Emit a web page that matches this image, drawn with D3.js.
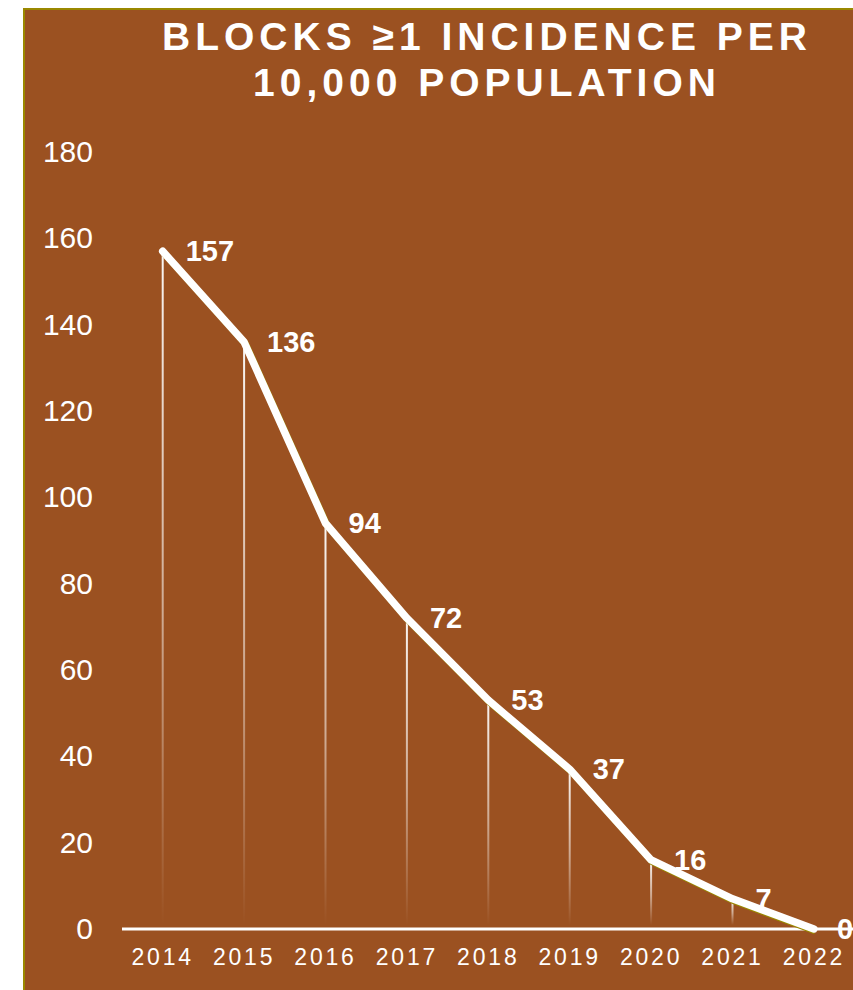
<!DOCTYPE html>
<html>
<head>
<meta charset="utf-8">
<script src="https://cdn.jsdelivr.net/npm/d3@7"></script>
<style>
  body { margin: 0; background: #fff; }
  svg { display: block; }
</style>
</head>
<body>
<div id="container"></div>
<script>
// chart data
let years = ["2014", "2015", "2016", "2017", "2018", "2019", "2020", "2021", "2022"];
let incidence = [157, 136, 94, 72, 53, 37, 16, 7, 0];
let yTicks = [0, 20, 40, 60, 80, 100, 120, 140, 160, 180];
let titleLines = ["BLOCKS \u22651 INCIDENCE PER", "10,000 POPULATION"];

let w = 853;
let h = 990;
let brown = "#9b5121";
let olive = "#9a8800";

let viz = d3.select("#container")
  .append("svg")
    .attr("width", w)
    .attr("height", h)
;

// panel
viz.append("rect")
    .attr("x", 24)
    .attr("y", 9)
    .attr("width", w)
    .attr("height", h)
    .attr("fill", brown)
    .attr("stroke", olive)
    .attr("stroke-width", 2)
;

// title
viz.selectAll(".title")
  .data(titleLines)
  .enter()
  .append("text")
    .attr("class", "title")
    .attr("x", 487)
    .attr("y", function(d, i){ return 50 + i * 46 })
    .attr("text-anchor", "middle")
    .attr("fill", "#fff")
    .style("font-family", "'Liberation Sans', Arial, sans-serif")
    .style("font-weight", "bold")
    .style("font-size", "39px")
    .style("letter-spacing", "5px")
    .text(function(d){ return d })
;

let xScale = d3.scaleBand().domain(years).range([122, 122 + 9 * 81.4]);
let yScale = d3.scaleLinear().domain([0, 180]).range([929, 152]);

function cx(d, i){ return xScale(years[i]) + xScale.bandwidth() / 2 }

// gradient for drop lines
let defs = viz.append("defs");
let grad = defs.append("linearGradient")
    .attr("id", "dropGrad")
    .attr("x1", 0).attr("y1", 0)
    .attr("x2", 0).attr("y2", 1)
;
grad.append("stop").attr("offset", "0%").attr("stop-color", "#fff").attr("stop-opacity", 0.95);
grad.append("stop").attr("offset", "55%").attr("stop-color", "#fff").attr("stop-opacity", 0.5);
grad.append("stop").attr("offset", "100%").attr("stop-color", "#fff").attr("stop-opacity", 0);

// drop lines
viz.selectAll(".drop")
  .data(incidence)
  .enter()
  .append("rect")
    .attr("class", "drop")
    .attr("x", function(d, i){ return cx(d, i) - 1 })
    .attr("y", function(d){ return yScale(d) })
    .attr("width", 2)
    .attr("height", function(d){ return Math.max(0, yScale(0) - 4 - yScale(d)) })
    .attr("fill", "url(#dropGrad)")
;

// x axis
let xAxis = d3.axisBottom(xScale).tickSize(0).tickPadding(20);
let xAxisGroup = viz.append("g")
    .attr("class", "xaxisgroup")
    .attr("transform", "translate(0," + yScale(0) + ")")
;
xAxisGroup.call(xAxis);
xAxisGroup.select(".domain")
    .attr("d", "M122,0H" + w)
    .attr("stroke", "#fff")
    .attr("stroke-width", 3)
;
xAxisGroup.selectAll("text")
    .attr("fill", "#fff")
    .style("font-family", "'Liberation Sans', Arial, sans-serif")
    .style("font-size", "23px")
    .style("letter-spacing", "2.8px")
;

// y axis
let yAxis = d3.axisLeft(yScale).tickValues(yTicks).tickSize(0).tickPadding(0);
let yAxisGroup = viz.append("g")
    .attr("class", "yaxisgroup")
    .attr("transform", "translate(93,0)")
;
yAxisGroup.call(yAxis);
yAxisGroup.select(".domain").remove();
yAxisGroup.selectAll("text")
    .attr("fill", "#fff")
    .style("font-family", "'Liberation Sans', Arial, sans-serif")
    .style("font-size", "30px")
;

// line with shadow
let lineMaker = d3.line()
    .x(function(d, i){ return cx(d, i) })
    .y(function(d){ return yScale(d) })
;

viz.append("path")
    .datum(incidence)
    .attr("d", lineMaker)
    .attr("transform", "translate(1.5,2)")
    .attr("fill", "none")
    .attr("stroke", olive)
    .attr("stroke-width", 7)
    .attr("stroke-linejoin", "round")
;
viz.append("path")
    .datum(incidence)
    .attr("d", lineMaker)
    .attr("fill", "none")
    .attr("stroke", "#fff")
    .attr("stroke-width", 7.5)
    .attr("stroke-linejoin", "round")
    .attr("stroke-linecap", "round")
;

// value labels
viz.selectAll(".value")
  .data(incidence)
  .enter()
  .append("text")
    .attr("class", "value")
    .attr("x", function(d, i){ return cx(d, i) + 23 })
    .attr("y", function(d){ return yScale(d) + 10 })
    .attr("fill", "#fff")
    .style("font-family", "'Liberation Sans', Arial, sans-serif")
    .style("font-weight", "bold")
    .style("font-size", "29px")
    .text(function(d){ return d })
;
</script>
</body>
</html>
